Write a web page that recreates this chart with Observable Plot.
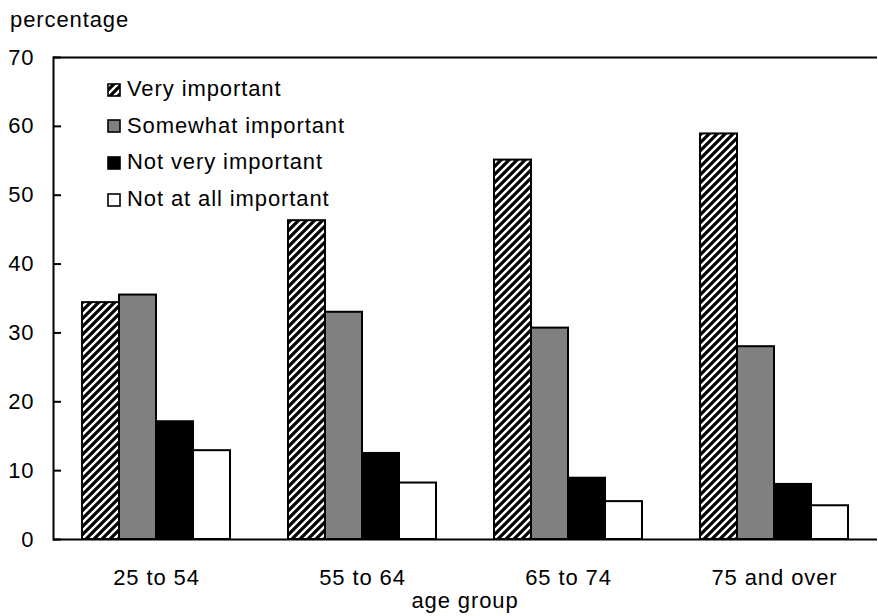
<!DOCTYPE html>
<html>
<head>
<meta charset="utf-8">
<script src="https://cdn.jsdelivr.net/npm/d3@7"></script>
<script src="https://cdn.jsdelivr.net/npm/@observablehq/plot@0.6"></script>
<style>
  html, body { margin: 0; padding: 0; background: #fff; }
  #wrap { position: relative; width: 878px; height: 616px; overflow: hidden;
          font-family: "Liberation Sans", Arial, sans-serif; font-size: 22px; letter-spacing: 0.9px; color: #000; }
  .lbl { position: absolute; line-height: 20px; white-space: nowrap; }
  .sw { position: absolute; width: 14px; height: 14px; }
  #chart { position: absolute; left: 0; top: 0; }
</style>
</head>
<body>
<div id="wrap">
  <svg width="0" height="0" style="position:absolute">
    <defs>
      <pattern id="hatch" patternUnits="userSpaceOnUse" width="8" height="8">
        <rect width="8" height="8" fill="#fff"></rect>
        <path d="M-2,2 L2,-2 M0,8 L8,0 M6,10 L10,6" stroke="#000" stroke-width="3.2"></path>
      </pattern>
    </defs>
  </svg>
  <div id="chart"></div>
  <div class="lbl" style="left:10px;top:9.5px">percentage</div>
  <div id="legend"></div>
  <div class="lbl" style="left:0;width:930px;text-align:center;top:591px">age group</div>
</div>
<script>
const groups = ["25 to 54", "55 to 64", "65 to 74", "75 and over"];
const series = ["Very important", "Somewhat important", "Not very important", "Not at all important"];
const veryImportant = [34.4, 46.3, 55.1, 58.9];
const somewhatImportant = [35.5, 33.0, 30.7, 28.0];
const notVeryImportant = [17.1, 12.5, 8.9, 8.0];
const notAtAllImportant = [12.9, 8.2, 5.5, 4.9];
const yTicks = [0, 10, 20, 30, 40, 50, 60, 70];
const fills = ["url(#hatch)", "#808080", "#000000", "#ffffff"];

const valuesBySeries = [veryImportant, somewhatImportant, notVeryImportant, notAtAllImportant];
const data = groups.flatMap((g, i) => series.map((s, j) => ({group: g, series: s, value: valuesBySeries[j][i]})));

const chart = Plot.plot({
  width: 878,
  height: 616,
  marginTop: 57,
  marginBottom: 77,
  marginLeft: 52,
  marginRight: 0,
  style: {fontFamily: '"Liberation Sans", Arial, sans-serif', fontSize: "22px", letterSpacing: "0.9px", color: "#000", background: "transparent", overflow: "visible"},
  fx: {domain: groups, padding: 0, label: null},
  x: {domain: series, paddingInner: 0, paddingOuter: 0.717, axis: null},
  y: {domain: [0, 70], label: null},
  color: {domain: series, range: fills},
  marks: [
    Plot.barY(data, {fx: "group", x: "series", y: "value", fill: "series", stroke: "#000", strokeWidth: 2}),
    Plot.ruleY([0, 70], {stroke: "#000", strokeWidth: 2}),
    Plot.frame({anchor: "left", facetAnchor: "left", stroke: "#000", strokeWidth: 2}),
    Plot.axisY({ticks: yTicks, tickSize: 8, dx: 8, tickPadding: 19, label: null, strokeWidth: 2, tickFormat: d => String(d)}),
    Plot.axisFx({anchor: "bottom", tickSize: 0, tickPadding: 29.4, label: null})
  ]
});
document.getElementById("chart").appendChild(chart);

// legend
const legend = document.getElementById("legend");
const rowTops = [79, 115.7, 152.3, 189];
series.forEach((s, j) => {
  const sw = document.createElementNS("http://www.w3.org/2000/svg", "svg");
  sw.setAttribute("class", "sw");
  sw.setAttribute("width", 14);
  sw.setAttribute("height", 14);
  sw.style.left = "106.5px";
  sw.style.top = (rowTops[j] + 3.5) + "px";
  const r = document.createElementNS("http://www.w3.org/2000/svg", "rect");
  r.setAttribute("x", 1); r.setAttribute("y", 1); r.setAttribute("width", 12); r.setAttribute("height", 12);
  r.setAttribute("fill", fills[j]); r.setAttribute("stroke", "#000"); r.setAttribute("stroke-width", 1.6);
  sw.appendChild(r);
  legend.appendChild(sw);
  const t = document.createElement("div");
  t.className = "lbl";
  t.style.left = "127px";
  t.style.top = rowTops[j] + "px";
  t.textContent = s;
  legend.appendChild(t);
});
</script>
</body>
</html>
